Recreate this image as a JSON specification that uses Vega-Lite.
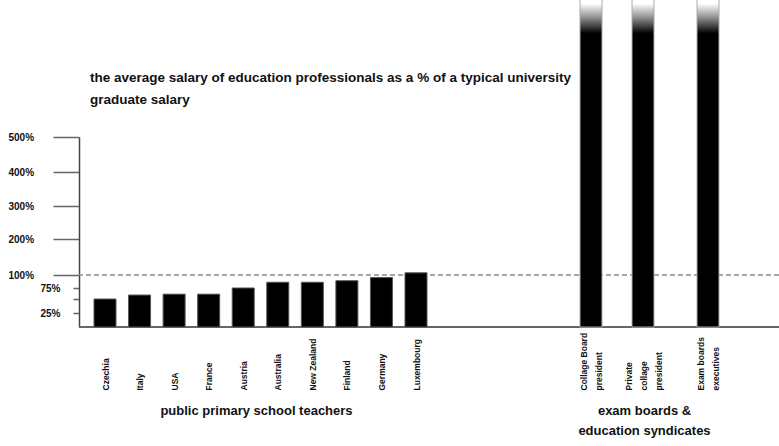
{
  "$schema": "https://vega.github.io/schema/vega-lite/v6.json",
  "width": 700,
  "height": 190,
  "autosize": "none",
  "padding": {"left": 79, "top": 137, "right": 0, "bottom": 119},
  "background": "white",
  "config": {
    "view": {"stroke": null},
    "font": "Liberation Sans, Arial, sans-serif"
  },
  "title": {
    "text": ["the average salary of education professionals as a % of a typical university", "graduate salary"],
    "anchor": "start",
    "frame": "group",
    "dx": 11,
    "offset": -120.5,
    "baseline": "alphabetic",
    "fontSize": 13.5,
    "fontWeight": "bold",
    "lineHeight": 22,
    "color": "#111"
  },
  "datasets": {
    "teachers": [
      {"occupation": "Czechia", "pct": 50},
      {"occupation": "Italy", "pct": 59},
      {"occupation": "USA", "pct": 61},
      {"occupation": "France", "pct": 61},
      {"occupation": "Austria", "pct": 75},
      {"occupation": "Australia", "pct": 86},
      {"occupation": "New Zealand", "pct": 86},
      {"occupation": "Finland", "pct": 89},
      {"occupation": "Germany", "pct": 95},
      {"occupation": "Luxembourg", "pct": 106}
    ],
    "syndicates": [
      {"occupation": "Collage Board|president", "pct": 900},
      {"occupation": "Private|collage|president", "pct": 900},
      {"occupation": "Exam boards|executives", "pct": 900}
    ],
    "refs": [{"ref": 100}],
    "base": [{"ref": 0}]
  },
  "layer": [
    {
      "data": {"name": "refs"},
      "mark": {"type": "rule", "color": "#8a8a8a", "strokeWidth": 1.5, "strokeDash": [5, 3]},
      "encoding": {
        "y": {
          "field": "ref",
          "type": "quantitative",
          "scale": {
            "type": "linear",
            "domain": [0, 25, 50, 75, 100, 200, 300, 400, 500],
            "range": [190, 176, 162, 151, 138, 102, 69, 35, 0],
            "nice": false,
            "zero": false
          },
          "axis": {
            "values": [25, 50, 75, 100, 200, 300, 400, 500],
            "tickCount": 12,
            "labelExpr": "datum.value == 50 ? '' : datum.value + '%'",
            "tickSize": {"condition": {"test": "datum.value >= 100", "value": 26}, "value": 6},
            "labelPadding": {"condition": {"test": "datum.value >= 100", "value": 45}, "value": 13},
            "labelAlign": {"condition": {"test": "datum.value >= 100", "value": "left"}, "value": "right"},
            "grid": false,
            "title": null,
            "domainColor": "#444",
            "domainWidth": 1.5,
            "tickColor": "#666",
            "tickWidth": 1.5,
            "labelFontSize": 10,
            "labelFontWeight": "bold",
            "labelColor": "#111",
            "labelFlush": false,
            "labelOverlap": false
          }
        }
      }
    },
    {
      "data": {"name": "base"},
      "mark": {"type": "rule", "color": "#666", "strokeWidth": 2},
      "encoding": {"y": {"field": "ref", "type": "quantitative"}}
    },
    {
      "data": {"name": "teachers"},
      "mark": {"type": "bar", "width": 22, "color": "black", "stroke": "#555", "strokeWidth": 1},
      "encoding": {
        "x": {
          "field": "occupation",
          "type": "nominal",
          "sort": null,
          "scale": {"type": "point", "range": [26, 337], "padding": 0},
          "axis": {
            "orient": "bottom",
            "ticks": false,
            "tickSize": 0,
            "domain": false,
            "labelAngle": -90,
            "labelAlign": "left",
            "labelBaseline": "middle",
            "labelPadding": 63,
            "labelFontSize": 8.5,
            "labelFontWeight": "bold",
            "labelColor": "#111",
            "labelOverlap": false,
            "title": "public primary school teachers",
            "titleFontSize": 13,
            "titleFontWeight": "bold",
            "titleColor": "#111",
            "titleX": 177,
            "titleY": 77,
            "titleAlign": "center",
            "titleBaseline": "top"
          }
        },
        "y": {"field": "pct", "type": "quantitative"}
      }
    },
    {
      "data": {"name": "syndicates"},
      "mark": {
        "type": "bar",
        "width": 22,
        "stroke": "#aaa",
        "strokeWidth": 1,
        "color": {
          "gradient": "linear",
          "x1": 0, "y1": 0, "x2": 0, "y2": 1,
          "stops": [
            {"offset": 0, "color": "#ffffff"},
            {"offset": 0.02, "color": "#ffffff"},
            {"offset": 0.065, "color": "#888888"},
            {"offset": 0.11, "color": "#000000"},
            {"offset": 1, "color": "#000000"}
          ]
        }
      },
      "encoding": {
        "x": {
          "field": "occupation",
          "type": "nominal",
          "sort": null,
          "scale": {
            "type": "point",
            "domain": ["Collage Board|president", "_a", "_b", "_c", "Private|collage|president", "_d", "_e", "_f", "_g", "Exam boards|executives"],
            "range": [512, 629],
            "padding": 0
          },
          "axis": {
            "orient": "bottom",
            "ticks": false,
            "tickSize": 0,
            "domain": false,
            "labelAngle": -90,
            "labelAlign": "left",
            "labelBaseline": "middle",
            "labelPadding": 63,
            "labelOffset": {"condition": {"test": "indexof(datum.value, 'Private') >= 0", "value": -15}, "value": -7.5},
            "labelFontSize": 8.5,
            "labelFontWeight": "bold",
            "labelColor": "#111",
            "labelLineHeight": 15,
            "labelOverlap": false,
            "labelExpr": "indexof(datum.value, '_') == 0 ? '' : split(datum.value, '|')",
            "title": ["exam boards &", "education syndicates"],
            "titleFontSize": 13,
            "titleFontWeight": "bold",
            "titleColor": "#111",
            "titleLineHeight": 20,
            "titleX": 565,
            "titleY": 77,
            "titleAlign": "center",
            "titleBaseline": "top"
          }
        },
        "y": {"field": "pct", "type": "quantitative"}
      }
    }
  ],
  "resolve": {"scale": {"x": "independent"}, "axis": {"x": "independent"}}
}
